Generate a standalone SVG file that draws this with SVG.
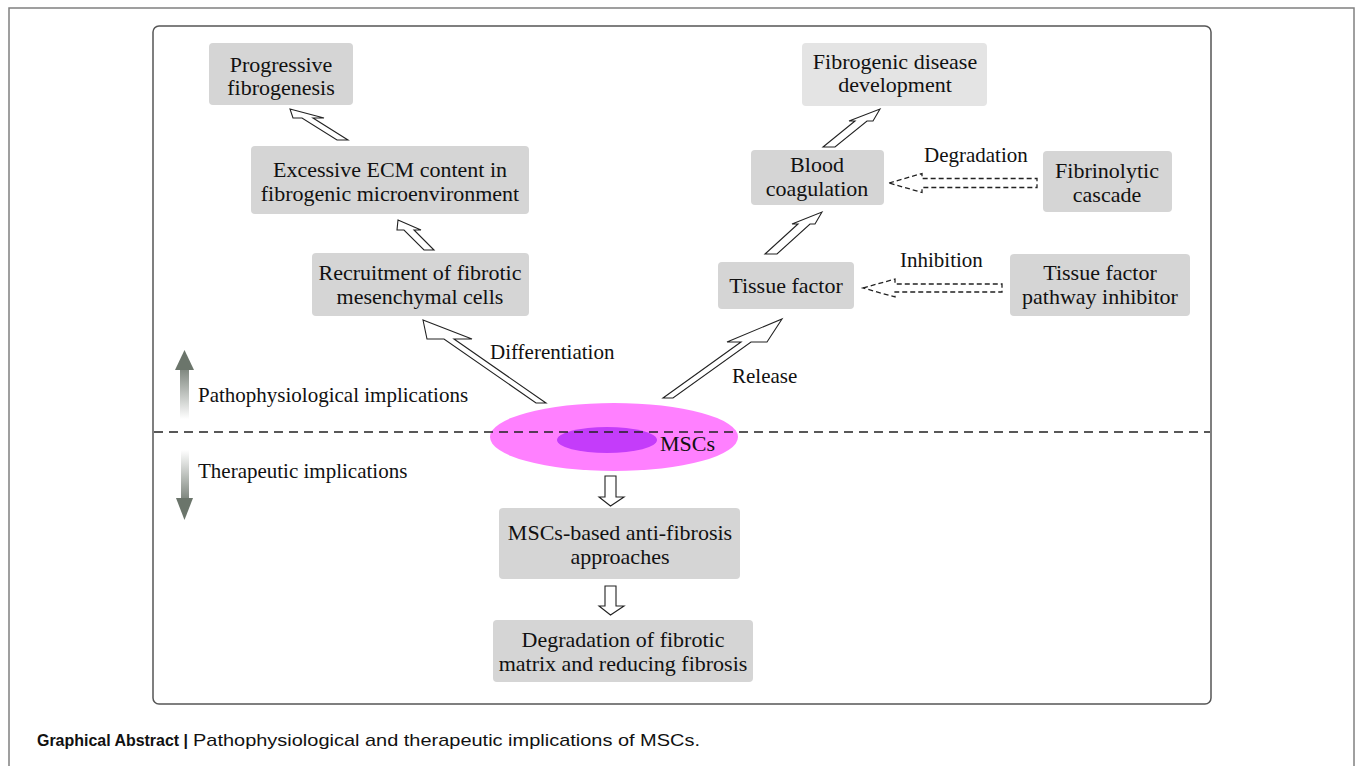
<svg xmlns="http://www.w3.org/2000/svg" width="1355" height="766" viewBox="0 0 1355 766">
<style>
.node rect{fill:#d5d5d5;stroke:none}
.node.light rect{fill:#e4e4e4}
.t{font-family:"Liberation Serif","Times New Roman",serif;font-size:22px;fill:#111;text-anchor:middle}
.lbl{font-family:"Liberation Serif","Times New Roman",serif;font-size:21px;fill:#111}
.blk{fill:#fff;stroke:#222;stroke-width:1.1;stroke-linejoin:miter}
.dsh{fill:#fff;stroke:#222;stroke-width:1.3;stroke-dasharray:5 3}
.cap{font-family:"Liberation Sans",Arial,sans-serif;font-size:17px;fill:#111}
</style>
<defs>
<linearGradient id="gUp" x1="0" y1="0" x2="0" y2="1">
<stop offset="0" stop-color="#7f877f"/>
<stop offset="1" stop-color="#ffffff"/>
</linearGradient>
<linearGradient id="gDown" x1="0" y1="0" x2="0" y2="1">
<stop offset="0" stop-color="#ffffff"/>
<stop offset="1" stop-color="#7f877f"/>
</linearGradient>
</defs>
<rect width="1355" height="766" fill="#fff"/>
<rect x="9" y="8" width="1345" height="800" fill="none" stroke="#808080" stroke-width="1.5"/>
<rect x="153" y="26" width="1058" height="678" rx="6" fill="none" stroke="#555" stroke-width="1.5"/>

<g id="n-progressive" class="node"><rect x="209" y="43" width="144" height="62" rx="4"/><text class="t" x="281" y="72">Progressive</text><text class="t" x="281" y="95">fibrogenesis</text></g>
<g id="n-ecm" class="node"><rect x="251" y="146" width="278" height="68" rx="4"/><text class="t" x="390" y="177">Excessive ECM content in</text><text class="t" x="390" y="201">fibrogenic microenvironment</text></g>
<g id="n-recruit" class="node"><rect x="312" y="253" width="217" height="63" rx="4"/><text class="t" x="420" y="280">Recruitment of fibrotic</text><text class="t" x="420" y="304">mesenchymal cells</text></g>
<g id="n-fibrodev" class="node light"><rect x="802" y="43" width="185" height="63" rx="4"/><text class="t" x="895" y="69">Fibrogenic disease</text><text class="t" x="895" y="92">development</text></g>
<g id="n-blood" class="node"><rect x="751" y="150" width="133" height="55" rx="4"/><text class="t" x="817" y="172">Blood</text><text class="t" x="817" y="196">coagulation</text></g>
<g id="n-fibrinolytic" class="node"><rect x="1043" y="151" width="129" height="61" rx="4"/><text class="t" x="1107" y="178">Fibrinolytic</text><text class="t" x="1107" y="202">cascade</text></g>
<g id="n-tissue" class="node"><rect x="718" y="262" width="136" height="47" rx="4"/><text class="t" x="786" y="293">Tissue factor</text></g>
<g id="n-tfpi" class="node"><rect x="1010" y="254" width="180" height="62" rx="4"/><text class="t" x="1100" y="280">Tissue factor</text><text class="t" x="1100" y="304">pathway inhibitor</text></g>
<g id="n-approaches" class="node"><rect x="499" y="508" width="241" height="71" rx="4"/><text class="t" x="620" y="540">MSCs-based anti-fibrosis</text><text class="t" x="620" y="564">approaches</text></g>
<g id="n-degradation" class="node"><rect x="493" y="620" width="260" height="62" rx="4"/><text class="t" x="623" y="647">Degradation of fibrotic</text><text class="t" x="623" y="671">matrix and reducing fibrosis</text></g>

<g id="n-mscs">
<ellipse cx="614" cy="437" rx="124" ry="34" fill="#ff80ff"/>
<ellipse cx="607" cy="440" rx="50" ry="13" fill="#c43cfa"/>
<text class="t" x="660" y="451" style="text-anchor:start">MSCs</text>
</g>

<line x1="154" y1="432" x2="1210" y2="432" stroke="#222" stroke-width="1.5" stroke-dasharray="9 6"/>

<g id="side">
<rect x="180" y="369" width="9" height="50" fill="url(#gUp)"/>
<polygon points="175,370 194,370 184.5,350" fill="#6b756b"/>
<text class="lbl" x="198" y="402">Pathophysiological implications</text>
<rect x="181" y="450" width="8" height="49" fill="url(#gDown)"/>
<polygon points="176,498 193,498 184.5,520" fill="#6b756b"/>
<text class="lbl" x="198" y="478">Therapeutic implications</text>
</g>

<g id="connectors">
<polygon class="blk" points="290,109 324,118 313,118 348,140 337,140 302,118 293,118"/>
<polygon class="blk" points="398,220 421,230 414,230 434,250 424,250 404,230 397,230"/>
<polygon class="blk" points="423,320 472,339 454,339 546,403 536,403 444,339 427,339"/>
<polygon class="blk" points="782,319 767,342 751,342 673,398 663,398 741,342 727,342"/>
<polygon class="blk" points="822,212 815,224 810,224 777,254 765,254 798,224 792,224"/>
<polygon class="blk" points="880,109 873,121 867,121 835,147 823,147 855,121 849,121"/>
<polygon class="dsh" points="889,183 922,173.5 922,178.5 1037,178.5 1037,187.5 922,187.5 922,192.5"/>
<polygon class="dsh" points="863,288 895,279 895,284 1002,284 1002,292 895,292 895,297"/>
<polygon class="blk" points="605,476 616,476 616,497 624,497 610.5,506 599,497 605,497"/>
<polygon class="blk" points="605,586 616,586 616,606 624,606 610.5,615 599,606 605,606"/>
<text class="lbl" x="490" y="359">Differentiation</text>
<text class="lbl" x="732" y="383">Release</text>
<text class="lbl" x="900" y="267">Inhibition</text>
<text class="lbl" x="924" y="162">Degradation</text>
</g>

<text class="cap" x="37" y="746" font-weight="bold" textLength="151" lengthAdjust="spacingAndGlyphs">Graphical Abstract |</text>
<text class="cap" x="193" y="746" textLength="507" lengthAdjust="spacingAndGlyphs">Pathophysiological and therapeutic implications of MSCs.</text>
</svg>
